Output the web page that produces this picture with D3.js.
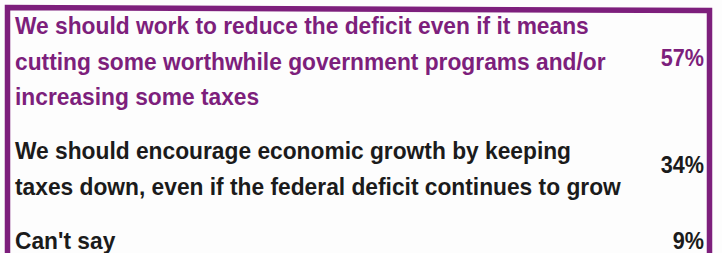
<!DOCTYPE html>
<html><head><meta charset="utf-8">
<script src="https://cdn.jsdelivr.net/npm/d3@7"></script>
<style>html,body{margin:0;padding:0;background:#fdfdfd;}svg{display:block;}</style>
</head><body>
<svg id="c" width="722" height="253"></svg>
<script>
const categories = [
  ["We should work to reduce the deficit even if it means",
   "cutting some worthwhile government programs and/or",
   "increasing some taxes"],
  ["We should encourage economic growth by keeping",
   "taxes down, even if the federal deficit continues to grow"],
  ["Can't say"]
];
const values = [57, 34, 9];
const valueLabels = ["57%", "34%", "9%"];
const highlight = [true, false, false];

const W = 722, H = 253;
const purple = "#7d1f7c", dark = "#1b1b1b";
const svg = d3.select("#c");
svg.append("rect").attr("width", W).attr("height", H).attr("fill", "#fdfdfd");

const fontSize = 23, lineH = 35.5, gap = 18.5, firstBase = 34;
let slots = [], slot = 0;
categories.forEach((lines, i) => {
  const b = lines.map((_, j) => firstBase + (slot + j) * lineH + i * gap);
  slots.push(b);
  slot += lines.length;
});
const textX = 15, valueX = 704;

const g = svg.append("g");
const rows = g.selectAll("g.row").data(categories).join("g").attr("class", "row");
rows.each(function(lines, i) {
  const r = d3.select(this);
  const col = highlight[i] ? purple : dark;
  const tl = r.selectAll("text.l").data(lines).join("text").attr("class", "l")
    .attr("font-family", "Liberation Sans, Arial, sans-serif")
    .attr("font-weight", "bold").attr("font-size", fontSize)
    .attr("fill", col).text(d => d);
  tl.attr("transform", (d, j) => `translate(${textX},${slots[i][j]}) scale(0.99,1)`);
  const vy = lines.length === 1 ? slots[i][0] : d3.mean(slots[i]) - 3.5;
  r.append("text")
    .attr("transform", `translate(${valueX},${vy}) scale(0.94,1)`)
    .attr("text-anchor", "end")
    .attr("font-family", "Liberation Sans, Arial, sans-serif")
    .attr("font-weight", "bold").attr("font-size", fontSize)
    .attr("fill", col).text(valueLabels[i]);
});

svg.append("path")
  .attr("d", `M7.5,${H + 5} L7.5,7.5 L709.5,10.5 L709.5,${H + 5}`)
  .attr("fill", "none").attr("stroke", purple).attr("stroke-width", 5.5);
</script>
</body></html>
